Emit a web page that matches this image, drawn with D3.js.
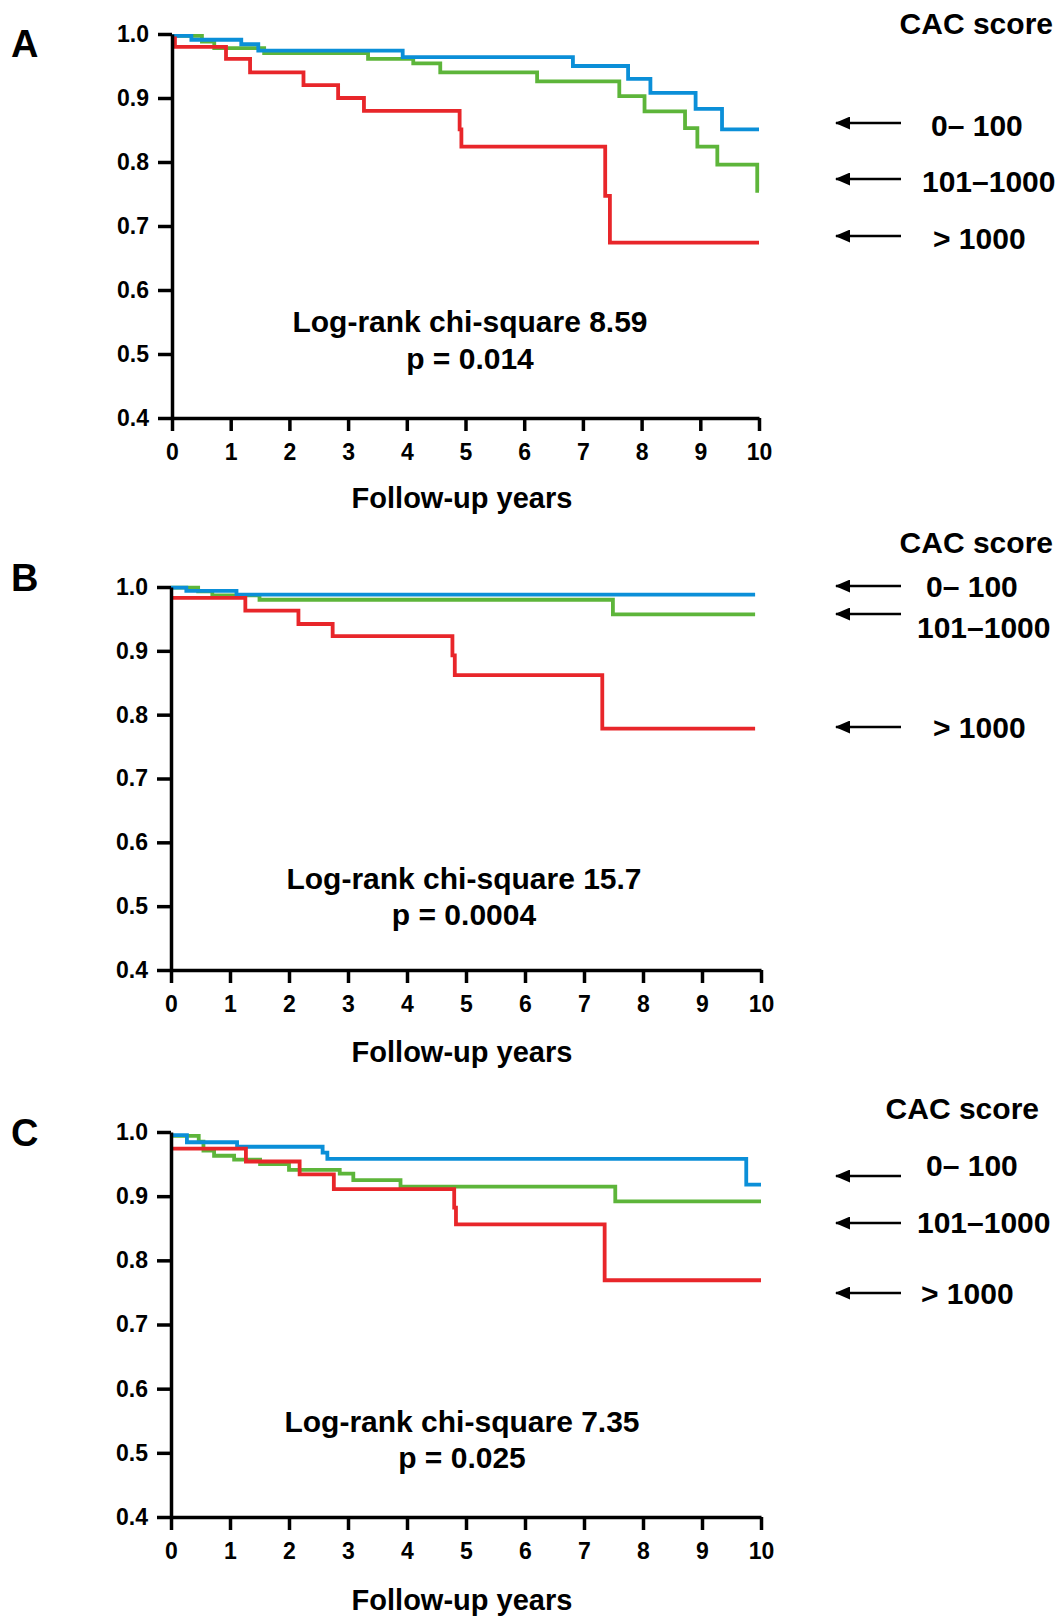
<!DOCTYPE html>
<html>
<head>
<meta charset="utf-8">
<script src="https://cdn.jsdelivr.net/npm/d3@7"></script>
<style>
  body { margin: 0; background: #fff; }
  text { font-family: "Liberation Sans", Arial, Helvetica, sans-serif; font-weight: bold; fill: #000; }
</style>
</head>
<body>
<div id="chart"></div>
<script>
// survival steps: [year, survival from that year on]
var blueA = [[0,0.997],[0.33,0.991],[1.18,0.984],[1.47,0.974],[3.93,0.964],[6.83,0.950],[7.77,0.930],[8.15,0.908],[8.92,0.883],[9.37,0.851],[10,0.851]]
var greenA = [[0,0.997],[0.51,0.988],[0.72,0.978],[1.57,0.970],[3.34,0.961],[4.11,0.954],[4.57,0.940],[6.22,0.926],[7.62,0.903],[8.05,0.879],[8.74,0.853],[8.95,0.824],[9.29,0.796],[9.97,0.755],[10,0.755]]
var redA = [[0,0.993],[0.05,0.980],[0.92,0.961],[1.33,0.940],[2.24,0.920],[2.83,0.900],[3.27,0.880],[4.90,0.851],[4.93,0.824],[7.38,0.747],[7.46,0.674],[10,0.674]]

var blueB = [[0,0.999],[0.26,0.994],[1.11,0.988],[9.9,0.988]]
var greenB = [[0,0.999],[0.46,0.993],[0.70,0.987],[1.50,0.980],[7.49,0.957],[9.9,0.957]]
var redB = [[0,0.983],[1.26,0.963],[2.16,0.942],[2.74,0.923],[4.77,0.893],[4.81,0.862],[7.31,0.778],[9.9,0.778]]

var blueC = [[0,0.995],[0.27,0.984],[1.12,0.977],[2.57,0.968],[2.65,0.958],[9.75,0.918],[10,0.918]]
var greenC = [[0,0.994],[0.47,0.985],[0.55,0.971],[0.73,0.963],[1.07,0.957],[1.51,0.950],[2.00,0.941],[2.86,0.935],[3.09,0.925],[3.89,0.915],[7.53,0.892],[10,0.892]]
var redC = [[0,0.974],[1.27,0.954],[2.18,0.934],[2.76,0.911],[4.80,0.882],[4.83,0.856],[7.35,0.769],[10,0.769]]

var panelNames = ["A", "B", "C"]
var chiSquare = ["8.59", "15.7", "7.35"]
var pValues = ["0.014", "0.0004", "0.025"]
var groupLabels = ["0\u2013 100", "101\u20131000", "> 1000"]
var yTicks = [0.4, 0.5, 0.6, 0.7, 0.8, 0.9, 1.0]
var xTicks = [0, 1, 2, 3, 4, 5, 6, 7, 8, 9, 10]

var colors = { blue: "#0b8fd8", green: "#5db53a", red: "#e8262a" }

// layout per panel (pixels)
var layout = [
  { x0: 172, x1: 759, top: 34, bottom: 418, letterY: 43, statX: 470, statY: [321, 358], titleY: 498,
    cacX: 1053, cacY: 23, arrowY: [123, 179, 236], labelX: [931, 922, 933], labelY: [125, 181, 238] },
  { x0: 171, x1: 761, top: 587, bottom: 970, letterY: 577, statX: 464, statY: [878, 914], titleY: 1052,
    cacX: 1053, cacY: 542, arrowY: [586, 614, 727], labelX: [926, 917, 933], labelY: [586, 627, 727] },
  { x0: 171, x1: 761, top: 1132, bottom: 1517, letterY: 1132, statX: 462, statY: [1421, 1457], titleY: 1600,
    cacX: 1039, cacY: 1108, arrowY: [1176, 1223, 1293], labelX: [926, 917, 921], labelY: [1165, 1222, 1293] }
]

var curves = [
  [blueA, greenA, redA],
  [blueB, greenB, redB],
  [blueC, greenC, redC]
]
var curveColors = [colors.blue, colors.green, colors.red]

var svg = d3.select("#chart").append("svg")
  .attr("width", 1062)
  .attr("height", 1621)

svg.append("defs").append("marker")
  .attr("id", "head")
  .attr("viewBox", "0 0 15 13")
  .attr("refX", 14).attr("refY", 6.5)
  .attr("markerWidth", 15).attr("markerHeight", 13)
  .attr("markerUnits", "userSpaceOnUse")
  .attr("orient", "auto")
  .append("path")
  .attr("d", "M15,6.5L0,0L0,13Z")
  .attr("fill", "#000")

for (var k = 0; k < 3; k++) {
  var L = layout[k]
  var g = svg.append("g")

  var x = d3.scaleLinear().domain([0, 10]).range([L.x0, L.x1])
  var y = d3.scaleLinear().domain([0.4, 1.0]).range([L.bottom, L.top])

  var line = d3.line()
    .x(function(d) { return x(d[0]) })
    .y(function(d) { return y(d[1]) })
    .curve(d3.curveStepAfter)

  // draw green, blue then red on top
  ;[1, 0, 2].forEach(function(i) {
    g.append("path")
      .attr("d", line(curves[k][i]))
      .attr("fill", "none")
      .attr("stroke", curveColors[i])
      .attr("stroke-width", 3.8)
  })

  var yAxis = g.append("g")
    .attr("transform", "translate(" + L.x0 + ",0)")
    .call(d3.axisLeft(y).tickValues(yTicks).tickFormat(d3.format(".1f"))
      .tickSize(14).tickPadding(9).tickSizeOuter(0))
  var xAxis = g.append("g")
    .attr("transform", "translate(0," + L.bottom + ")")
    .call(d3.axisBottom(x).tickValues(xTicks).tickFormat(d3.format("d"))
      .tickSize(13).tickPadding(13).tickSizeOuter(0))

  ;[yAxis, xAxis].forEach(function(a) {
    a.select(".domain").attr("stroke", "#000").attr("stroke-width", 3.5)
    a.selectAll(".tick line").attr("stroke", "#000").attr("stroke-width", 3.5)
    a.selectAll(".tick text").style("font-size", "23px").attr("fill", "#000")
  })

  g.append("text")
    .attr("x", 11).attr("y", L.letterY).attr("dy", "0.36em")
    .style("font-size", "38px")
    .text(panelNames[k])

  g.append("text")
    .attr("x", L.statX).attr("y", L.statY[0]).attr("dy", "0.36em")
    .attr("text-anchor", "middle").style("font-size", "30px")
    .text("Log-rank chi-square " + chiSquare[k])
  g.append("text")
    .attr("x", L.statX).attr("y", L.statY[1]).attr("dy", "0.36em")
    .attr("text-anchor", "middle").style("font-size", "30px")
    .text("p = " + pValues[k])

  g.append("text")
    .attr("x", 462).attr("y", L.titleY).attr("dy", "0.36em")
    .attr("text-anchor", "middle").style("font-size", "29px")
    .text("Follow-up years")

  g.append("text")
    .attr("x", L.cacX).attr("y", L.cacY).attr("dy", "0.36em")
    .attr("text-anchor", "end").style("font-size", "30px")
    .text("CAC score")

  groupLabels.forEach(function(lab, i) {
    g.append("line")
      .attr("x1", 901).attr("x2", 836)
      .attr("y1", L.arrowY[i]).attr("y2", L.arrowY[i])
      .attr("stroke", "#000").attr("stroke-width", 2.6)
      .attr("marker-end", "url(#head)")
    g.append("text")
      .attr("x", L.labelX[i]).attr("y", L.labelY[i]).attr("dy", "0.36em")
      .style("font-size", "30px")
      .text(lab)
  })
}
</script>
</body>
</html>
